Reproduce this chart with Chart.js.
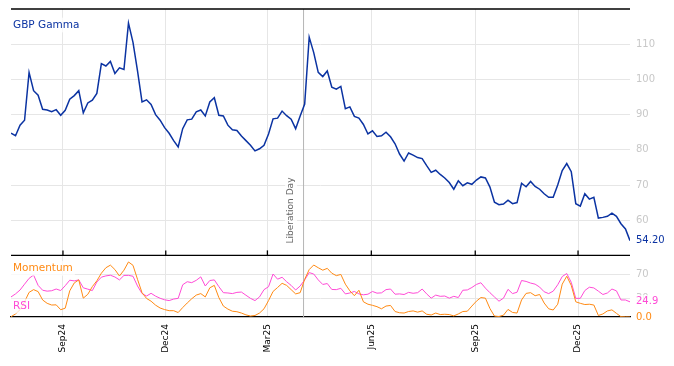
<!DOCTYPE html>
<html>
<head>
<meta charset="utf-8">
<script src="https://cdn.jsdelivr.net/npm/chart.js@4.4.1/dist/chart.umd.min.js"></script>
<style>
html, body { margin: 0; padding: 0; background: #fff; }
</style>
</head>
<body>
<canvas id="myChart" width="674" height="366"></canvas>
<script>
const dates = ['2024-07-17','2024-07-21','2024-07-25','2024-07-29','2024-08-02','2024-08-06','2024-08-10','2024-08-14','2024-08-18','2024-08-22',
  '2024-08-26','2024-08-30','2024-09-03','2024-09-07','2024-09-11','2024-09-15','2024-09-19','2024-09-23','2024-09-27','2024-10-01',
  '2024-10-05','2024-10-09','2024-10-13','2024-10-17','2024-10-21','2024-10-25','2024-10-29','2024-11-02','2024-11-06','2024-11-10',
  '2024-11-14','2024-11-18','2024-11-22','2024-11-26','2024-11-30','2024-12-04','2024-12-08','2024-12-12','2024-12-16','2024-12-20',
  '2024-12-24','2024-12-28','2025-01-01','2025-01-05','2025-01-09','2025-01-13','2025-01-17','2025-01-21','2025-01-25','2025-01-29',
  '2025-02-02','2025-02-06','2025-02-10','2025-02-14','2025-02-18','2025-02-22','2025-02-26','2025-03-02','2025-03-06','2025-03-10',
  '2025-03-14','2025-03-18','2025-03-22','2025-03-26','2025-03-30','2025-04-03','2025-04-07','2025-04-11','2025-04-15','2025-04-19',
  '2025-04-23','2025-04-27','2025-05-01','2025-05-05','2025-05-09','2025-05-13','2025-05-17','2025-05-21','2025-05-25','2025-05-29',
  '2025-06-02','2025-06-06','2025-06-10','2025-06-14','2025-06-18','2025-06-22','2025-06-26','2025-06-30','2025-07-04','2025-07-08',
  '2025-07-12','2025-07-16','2025-07-20','2025-07-24','2025-07-28','2025-08-01','2025-08-05','2025-08-09','2025-08-13','2025-08-17',
  '2025-08-21','2025-08-25','2025-08-29','2025-09-02','2025-09-06','2025-09-10','2025-09-14','2025-09-18','2025-09-22','2025-09-26',
  '2025-09-30','2025-10-04','2025-10-08','2025-10-12','2025-10-16','2025-10-20','2025-10-24','2025-10-28','2025-11-01','2025-11-05',
  '2025-11-09','2025-11-13','2025-11-17','2025-11-21','2025-11-25','2025-11-29','2025-12-03','2025-12-07','2025-12-11','2025-12-15',
  '2025-12-19','2025-12-23','2025-12-27','2025-12-31','2026-01-04','2026-01-08','2026-01-12','2026-01-16'];

const gamma = [84.7, 84.0, 87.0, 88.4, 102.0, 96.8, 95.5, 91.5, 91.3, 90.8,
  91.4, 89.8, 91.2, 94.4, 95.4, 96.8, 90.5, 93.3, 94.1, 96.0,
  104.5, 103.8, 105.1, 101.7, 103.3, 102.8, 116.0, 110.5, 102.4, 93.6,
  94.2, 92.9, 90.0, 88.4, 86.3, 84.7, 82.6, 80.8, 86.0, 88.5,
  88.7, 90.8, 91.3, 89.6, 93.6, 94.8, 89.8, 89.6, 87.0, 85.7,
  85.5, 83.9, 82.6, 81.3, 79.7, 80.3, 81.3, 84.5, 88.8, 89.0,
  91.0, 89.7, 88.7, 86.0, 89.6, 93.0, 112.0, 107.6, 102.0, 100.8,
  102.4, 97.8, 97.2, 98.0, 91.7, 92.2, 89.5, 89.0, 87.2, 84.5,
  85.4, 83.8, 84.0, 85.0, 83.7, 81.7, 78.8, 76.8, 79.1, 78.5,
  77.8, 77.5, 75.5, 73.6, 74.2, 73.0, 72.0, 70.7, 68.8, 71.2,
  69.8, 70.6, 70.2, 71.4, 72.3, 72.0, 69.4, 65.1, 64.4, 64.6,
  65.7, 64.7, 65.0, 70.5, 69.5, 71.0, 69.6, 68.8, 67.5, 66.5,
  66.5, 70.0, 74.1, 76.1, 73.8, 64.7, 64.0, 67.5, 66.0, 66.5,
  60.6, 60.8, 61.1, 62.0, 61.1, 59.0, 57.5, 54.2];

const momentum = [0.5, 5, 12, 25, 40.5, 45, 41.8, 28, 22.5, 19.7,
  20, 12, 14.5, 43, 56, 61, 31, 37.3, 50, 59.5,
  72, 81, 85.3, 78, 67.4, 77, 90.5, 85, 62, 40,
  30.5, 26, 19.5, 14.8, 12.2, 10.4, 10.4, 7.3, 15.5, 23,
  30, 36, 38.5, 33, 48, 52, 32, 18, 13, 9.5,
  8.7, 6.5, 3.5, 1.6, 2.5, 6.5, 13.5, 27, 42, 48.5,
  55.4, 52, 45, 38, 40, 62, 78, 85.5, 81, 77,
  80, 72, 68, 70, 54, 43, 35, 44, 25, 21,
  19.2, 17, 13.5, 18, 19, 9, 7, 6.5, 9, 10,
  8, 10, 4.5, 3.3, 6.5, 4, 4.5, 4, 1.8, 5,
  9, 9.5, 18, 26, 32, 31, 14, 1.5, 0.8, 3,
  12.5, 7.5, 6.5, 28, 38.8, 40, 35, 37, 23, 13.5,
  11.5, 21, 54, 67, 52, 25, 22.5, 20.5, 21, 19.7,
  2.5, 5, 10, 11.7, 6, 0.5, 0.2, 0];

const rsi = [33, 38, 44.4, 54, 63.5, 69, 52, 44, 42.5, 43.2,
  46, 43.5, 51.5, 60.5, 59.4, 61, 48, 45.8, 43.5, 57.5,
  65.5, 67.6, 68.7, 65.8, 61, 68.4, 68.5, 67, 51, 38.6,
  34.5, 39, 34.3, 30.8, 28.3, 27, 29.5, 30.7, 53, 58,
  56.5, 60.3, 66, 51, 60, 61, 50, 40, 39.5, 38.5,
  40.5, 41, 35.8, 30.7, 27, 33, 45, 49.8, 70.7, 62.2,
  65.3, 58, 52, 44.4, 51, 61, 73, 70.7, 61, 53.5,
  55, 45.3, 45, 47.2, 38, 39.5, 42, 38, 36.5, 37.5,
  42, 39.2, 39.7, 45, 46, 37.5, 38, 37, 40.5, 39,
  40, 46, 38, 31, 36, 34, 34.5, 31, 34, 32,
  44, 44.5, 48.5, 53.5, 56.3, 47.5, 40, 33, 26, 31,
  45.5, 38.5, 40.7, 60, 58.5, 55.8, 54, 49.2, 41.5, 38.5,
  42.5, 53, 66.5, 71.5, 57, 30.7, 30.7, 43.5, 49, 47.8,
  42.5, 37, 39.5, 46, 43, 28, 28, 24.9];

const tickDates = ['2024-09-01', '2024-12-01', '2025-03-01', '2025-06-01', '2025-09-01', '2025-12-01'];
const tickLabels = ['Sep24', 'Dec24', 'Mar25', 'Jun25', 'Sep25', 'Dec25'];
const gammaTicks = [60, 70, 80, 90, 100, 110];
const oscTicks = [30, 70];
const eventDate = '2025-04-02';
const eventLabel = 'Liberation Day';

const BLUE = '#0b33a2';
const ORANGE = '#ff8a14';
const PINK = '#ff4bd6';
const GRID = '#e6e6e6';
const FONT = '"DejaVu Sans", sans-serif';

const day = s => (Date.parse(s) - Date.parse(dates[0])) / 86400000;
const pts = vals => dates.map((d, i) => ({ x: day(d), y: vals[i] }));

function label(ctx, text, x, y, color, size) {
  ctx.font = size + 'px ' + FONT;
  const w = ctx.measureText(text).width;
  ctx.fillStyle = 'rgba(255,255,255,0.75)';
  ctx.fillRect(x - 2, y - size * 0.7, w + 4, size * 1.4);
  ctx.fillStyle = color;
  ctx.textBaseline = 'middle';
  ctx.textAlign = 'left';
  ctx.fillText(text, x, y);
}

// no extra room for half tick labels, so the frame lands where the reference has it
const noPad = s => { s.paddingTop = 0; s.paddingBottom = 0; };

const overlay = {
  id: 'overlay',
  beforeDatasetsDraw(chart) {
    const { ctx, chartArea: a, scales: { x } } = chart;
    const ex = x.getPixelForValue(day(eventDate));
    ctx.save();
    ctx.strokeStyle = '#b5b5b5';
    ctx.lineWidth = 1;
    ctx.beginPath();
    ctx.moveTo(ex, a.top);
    ctx.lineTo(ex, a.bottom);
    ctx.stroke();
    ctx.restore();
  },
  afterDatasetsDraw(chart) {
    const { ctx, chartArea: a, scales: { x, yG, yO } } = chart;
    ctx.save();
    // frame lines
    ctx.strokeStyle = '#000';
    ctx.lineWidth = 1.3;
    [a.top, yG.bottom].forEach(y => {
      ctx.beginPath();
      ctx.moveTo(a.left, y);
      ctx.lineTo(a.right, y);
      ctx.stroke();
    });
    x.ticks.forEach(t => {
      const px = x.getPixelForValue(t.value);
      ctx.beginPath();
      ctx.moveTo(px, yG.bottom);
      ctx.lineTo(px, yG.bottom - 5);
      ctx.stroke();
    });

    // panel names
    label(ctx, 'GBP Gamma', a.left + 2, a.top + 16, BLUE, 10.5);
    label(ctx, 'Momentum', a.left + 2, yG.bottom + 13, ORANGE, 10.5);
    label(ctx, 'RSI', a.left + 2, a.bottom - 11, PINK, 10.5);

    // last values
    label(ctx, gamma[gamma.length - 1].toFixed(2), a.right + 6, yG.getPixelForValue(gamma[gamma.length - 1]), BLUE, 10);
    label(ctx, rsi[rsi.length - 1].toFixed(1), a.right + 6, yO.getPixelForValue(rsi[rsi.length - 1]), PINK, 10);
    label(ctx, momentum[momentum.length - 1].toFixed(1), a.right + 6, yO.getPixelForValue(momentum[momentum.length - 1]), ORANGE, 10);

    // event text
    const ex = x.getPixelForValue(day(eventDate));
    ctx.translate(ex - 12.5, yG.bottom - 12);
    ctx.rotate(-Math.PI / 2);
    ctx.font = '9px ' + FONT;
    const w = ctx.measureText(eventLabel).width;
    ctx.fillStyle = 'rgba(255,255,255,0.85)';
    ctx.fillRect(-1, -6, w + 2, 12);
    ctx.fillStyle = '#666';
    ctx.textBaseline = 'middle';
    ctx.fillText(eventLabel, 0, 0);
    ctx.restore();
  }
};

Chart.defaults.font.family = FONT;

const ctx = document.getElementById('myChart').getContext('2d');
const myChart = new Chart(ctx, {
  type: 'line',
  data: {
    datasets: [
      { label: 'GBP Gamma', data: pts(gamma), yAxisID: 'yG', borderColor: BLUE, borderWidth: 1.5 },
      { label: 'Momentum', data: pts(momentum), yAxisID: 'yO', borderColor: ORANGE, borderWidth: 1 },
      { label: 'RSI', data: pts(rsi), yAxisID: 'yO', borderColor: PINK, borderWidth: 1 }
    ]
  },
  options: {
    responsive: false,
    animation: false,
    elements: { point: { radius: 0 }, line: { tension: 0 } },
    layout: { padding: { left: 11, top: 9, right: 0, bottom: 0 } },
    plugins: { legend: { display: false }, tooltip: { enabled: false } },
    scales: {
      x: {
        type: 'linear',
        min: 0,
        max: day(dates[dates.length - 1]),
        afterBuildTicks: s => { s.ticks = tickDates.map(t => ({ value: day(t) })); },
        afterFit: s => { s.height = 49; },
        ticks: {
          autoSkip: false,
          callback: (v, i) => tickLabels[i],
          maxRotation: 90,
          minRotation: 90,
          padding: 7,
          color: '#000',
          font: { size: 9 }
        },
        grid: { color: GRID, drawTicks: false },
        border: { display: true, color: '#000', width: 1.3 }
      },
      yG: {
        position: 'right',
        stack: 'panels',
        stackWeight: 4,
        min: 50,
        max: 120,
        afterBuildTicks: s => { s.ticks = gammaTicks.map(v => ({ value: v })); },
        afterFit: s => { s.width = 44; noPad(s); },
        ticks: { color: '#c8c8c8', padding: 6, font: { size: 10 } },
        grid: { color: GRID, drawTicks: false },
        border: { display: false }
      },
      yO: {
        position: 'right',
        stack: 'panels',
        stackWeight: 1,
        min: 0,
        max: 101.3,
        afterBuildTicks: s => { s.ticks = oscTicks.map(v => ({ value: v })); },
        afterFit: s => { s.width = 44; noPad(s); },
        ticks: { color: '#c8c8c8', padding: 6, font: { size: 10 } },
        grid: { color: GRID, drawTicks: false },
        border: { display: false }
      }
    }
  },
  plugins: [overlay]
});
</script>
</body>
</html>
